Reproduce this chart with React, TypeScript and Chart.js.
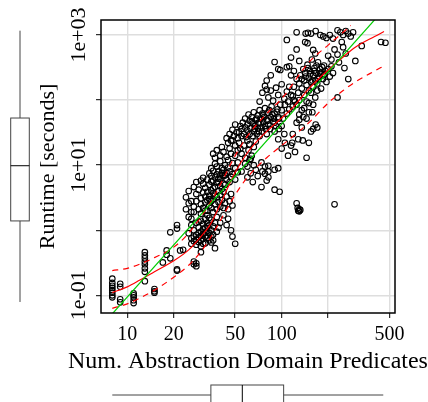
import React, { useEffect, useRef } from 'react';
import { Chart, registerables } from 'chart.js';

Chart.register(...registerables);

const SERIF = '"Liberation Serif", "DejaVu Serif", serif';

// Axis ticks and titles
const predicateTicks = [10, 20, 50, 100, 200, 500];
const predicateTickLabels = ['10', '20', '50', '100', '', '500'];
const runtimeTicks = [0.1, 1, 10, 100, 1000];
const runtimeTickLabels = ['1e-01', '', '1e+01', '', '1e+03'];
const xTitle = 'Num. Abstraction Domain Predicates';
const yTitle = 'Runtime [seconds]';

// Observations: [num. abstraction domain predicates, runtime in seconds]
const samples: [number, number][] = [
  [8, 0.18], [8, 0.155], [8, 0.14], [8, 0.13], [8, 0.12], [8, 0.11], [8, 0.1], [8, 0.093],
  [9, 0.15], [9, 0.135], [9, 0.087], [9, 0.078],
  [11, 0.107], [11, 0.1], [11, 0.093], [11, 0.084], [11, 0.076],
  [13, 0.46], [13, 0.41], [13, 0.37], [13, 0.33], [13, 0.3], [13, 0.26], [13, 0.23], [13, 0.165],
  [15, 0.125], [15, 0.115], [15, 0.11],
  [17, 0.32], [18, 0.49], [18, 0.42], [19, 0.93], [19, 0.37], [21, 1.2], [21, 1.06], [21, 0.25], [21, 0.24],
  [22, 0.49], [23, 0.5], [27, 0.33], [27, 0.3], [28, 0.31], [28, 0.28],
  [25, 1.6], [25, 0.9], [26, 1.5], [26, 1.2], [26, 0.75], [26, 0.62], [27, 1.9], [27, 1.0], [27, 0.8], [27, 0.68],
  [28, 1.3], [28, 0.85], [28, 0.72], [28, 0.6], [29, 1.1], [29, 0.9], [29, 0.78], [29, 0.66],
  [30, 1.8], [30, 1.4], [30, 0.95], [30, 0.82], [30, 0.7], [30, 0.57], [30, 0.46], [31, 1.25], [31, 1.05], [31, 0.88], [31, 0.74],
  [32, 2.0], [32, 1.5], [32, 1.1], [32, 0.92], [32, 0.8], [32, 0.63], [33, 1.7], [33, 1.3], [33, 0.98], [33, 0.77],
  [34, 1.2], [34, 0.9], [34, 0.7], [35, 1.45], [35, 1.0], [35, 0.8], [36, 1.15], [36, 0.86], [37, 0.53], [37, 1.3], [38, 0.95],
  [29, 1.35], [31, 0.62], [33, 1.15], [34, 1.55], [36, 0.7], [35, 0.65],
  [48, 0.8], [50, 0.62],
  [24, 2.1], [25, 2.6], [26, 1.9], [24, 3.2], [25, 4.0], [26, 2.8], [27, 4.6], [28, 5.5],
  [27, 2.3], [28, 2.8], [28, 3.6], [29, 2.1], [29, 4.2], [30, 2.5], [30, 3.1], [31, 2.2], [31, 3.8], [31, 5.2],
  [32, 2.7], [32, 3.3], [32, 4.5], [33, 2.0], [33, 2.9], [33, 3.9], [34, 2.4], [34, 3.4], [34, 5.0],
  [35, 2.2], [35, 2.8], [35, 4.1], [35, 5.6], [36, 3.0], [36, 3.7], [37, 2.5], [37, 4.6], [38, 2.1], [38, 3.2], [38, 5.4],
  [39, 2.7], [39, 4.0], [40, 2.3], [40, 3.5], [40, 4.8], [41, 2.9], [42, 2.2], [42, 3.9], [43, 2.6], [44, 3.3],
  [45, 2.1], [46, 2.8], [47, 3.6], [48, 2.4],
  [34, 3.0], [36, 4.4], [37, 3.4], [39, 6.2], [41, 4.3], [43, 5.0], [41, 7.6], [43, 7.0],
  [38, 1.6], [40, 1.3], [42, 1.7], [44, 1.2], [45, 1.5], [47, 1.0], [36, 1.9], [39, 1.1],
  [33, 6.0], [34, 7.5], [35, 6.8], [35, 9.0], [36, 5.8], [36, 8.2], [37, 6.5], [37, 10.5], [38, 7.2], [38, 9.5],
  [39, 5.5], [39, 8.0], [40, 6.2], [40, 7.0], [40, 11.5], [41, 9.0], [42, 5.2], [42, 6.8], [42, 8.5], [43, 10.0],
  [44, 6.0], [44, 7.6], [45, 9.2], [45, 12.0], [46, 5.5], [46, 8.0], [47, 6.6], [48, 10.8], [48, 7.3], [50, 9.0],
  [50, 6.0], [52, 11.0], [52, 7.8], [31, 6.4], [30, 5.8],
  [36, 15], [37, 13], [38, 17], [40, 14], [41, 19], [42, 16], [44, 13.5], [45, 22], [46, 18], [47, 15],
  [48, 24], [50, 20], [50, 14], [52, 17], [44, 26],
  [55, 8.0], [58, 10.5], [60, 6.5], [60, 9.5], [62, 12], [63, 7.5], [65, 5.5], [66, 10], [68, 8.5], [70, 6.8],
  [74, 11], [78, 9.5], [82, 9.8], [75, 8], [78, 7.4], [82, 8], [90, 8.5], [95, 9.0], [82, 6.5], [80, 5.8],
  [74, 4.6], [90, 4.2], [97, 3.9],
  [52, 26], [53, 32], [54, 40], [55, 28], [55, 36], [56, 45], [57, 30], [58, 38], [58, 52], [59, 27],
  [60, 34], [60, 42], [61, 60], [62, 30], [62, 48], [63, 37], [64, 55], [65, 28], [65, 44], [66, 33],
  [66, 65], [67, 40], [68, 50], [69, 30], [70, 37], [70, 58], [71, 45], [72, 28], [72, 70], [73, 52],
  [74, 38], [75, 62], [75, 33], [76, 46], [77, 55], [78, 40], [78, 75], [80, 30], [80, 50], [82, 64],
  [82, 42], [84, 36], [85, 55], [86, 80], [88, 47], [90, 62], [92, 40], [94, 72], [96, 52], [98, 85],
  [64, 47], [67, 36], [69, 52], [71, 33], [73, 44], [76, 58], [79, 36], [81, 48], [83, 70], [87, 60],
  [89, 52], [93, 66],
  [46, 30], [47, 24], [48, 35], [49, 28], [50, 42], [51, 32], [53, 22], [54, 18], [55, 15], [57, 20],
  [58, 13], [60, 24], [61, 17], [62, 21], [64, 14], [66, 19], [68, 23], [63, 12.5],
  [72, 95], [75, 130], [78, 165], [82, 110], [85, 140], [88, 98], [92, 155], [95, 120], [100, 175], [104, 105],
  [108, 135], [112, 160], [118, 115], [122, 95], [85, 240], [95, 300], [98, 290], [108, 320], [112, 330],
  [80, 200], [80, 145],
  [95, 25], [100, 18], [105, 22], [110, 14], [115, 20], [117, 22], [122, 16], [128, 25], [137, 24], [145, 13],
  [118, 30], [125, 45], [130, 60], [135, 38], [140, 75], [145, 52], [150, 90], [150, 22], [155, 33], [160, 36],
  [166, 42], [170, 38], [158, 65], [165, 110], [170, 140],
  [90, 45], [95, 55], [100, 70], [102, 52], [105, 85], [108, 62], [110, 95], [112, 72], [115, 120], [118, 80],
  [120, 100], [100, 40], [96, 36], [90, 33], [104, 30],
  [125, 85], [130, 100], [135, 70], [140, 120], [145, 95], [150, 65], [155, 130], [160, 85], [130, 50], [138, 55],
  [130, 180], [132, 240], [135, 150], [138, 300], [140, 200], [142, 260], [145, 170], [147, 350], [150, 220], [150, 140],
  [152, 280], [155, 190], [157, 420], [160, 240], [160, 160], [163, 310], [165, 200], [167, 260], [170, 180], [172, 380],
  [175, 230], [177, 300], [180, 150], [182, 270], [185, 210], [188, 340], [190, 250], [195, 190], [200, 300], [205, 230],
  [135, 210], [143, 230], [148, 310], [153, 250], [158, 200], [162, 280], [168, 340], [173, 210], [178, 260], [183, 320],
  [187, 240], [192, 280],
  [128, 130], [125, 210], [120, 160], [120, 280], [115, 240], [210, 420], [200, 480],
  [108, 840], [142, 780], [147, 750], [160, 590], [165, 520], [90, 385], [115, 450], [125, 600], [130, 400],
  [125, 1100], [143, 1050], [148, 1080], [155, 1050], [166, 1150], [178, 1000], [186, 950], [195, 900], [205, 1000],
  [215, 880], [230, 1180], [240, 1100], [250, 1000], [260, 1150], [270, 1050], [280, 950], [290, 1100],
  [245, 780], [300, 400], [270, 210], [230, 110], [255, 310], [330, 680], [440, 780], [470, 760], [220, 600],
  [230, 500], [250, 650], [210, 330], [215, 260], [235, 380], [260, 520],
  [125, 2.6], [127, 2.2], [130, 2.1], [128, 2.0], [132, 2.05], [130, 1.95], [220, 2.5],
];

// Linear fit on log-log scale (green)
const fitX = [8, 400];
const fitY = [0.052, 1710];

// Smoothed trend (red) and its band (red dashed)
const smoothX = [8, 10, 12, 15, 20, 25, 30, 35, 40, 45, 50, 60, 70, 80, 100, 120, 150, 200, 250, 300, 400, 460];
const smoothY = [0.11, 0.135, 0.17, 0.23, 0.34, 0.5, 0.8, 1.3, 2.5, 4.6, 7.8, 15.5, 24, 33, 53, 80, 150, 290, 460, 650, 950, 1130];
const upperX = [8, 10, 12, 15, 20, 25, 30, 35, 40, 50, 60, 80, 100, 150, 200, 250, 280];
const upperY = [0.24, 0.26, 0.3, 0.38, 0.55, 0.9, 1.6, 2.8, 5, 14, 28, 62, 105, 380, 700, 1100, 1400];
const lowerX = [8, 10, 12, 15, 20, 25, 30, 35, 40, 50, 60, 80, 100, 150, 200, 250, 300, 400, 460];
const lowerY = [0.063, 0.074, 0.09, 0.12, 0.19, 0.29, 0.47, 0.8, 1.4, 3.5, 6.5, 13, 20, 45, 90, 140, 190, 280, 335];

// Marginal boxplots: [lower whisker, Q1, median, Q3, upper whisker]
const predicateBox = [8.0, 34.8, 55.6, 103, 455];
const runtimeBox = [0.079, 1.39, 9.8, 53, 1165];

const toPoints = (xs: number[], ys: number[]) => xs.map((x, i) => ({ x, y: ys[i] }));

const overlay = {
  id: 'overlay',
  afterDraw(chart: any) {
    const { ctx, chartArea: a, scales } = chart;
    const x = scales.x;
    const y = scales.y;
    ctx.save();
    // frame
    ctx.strokeStyle = '#000';
    ctx.lineWidth = 1.5;
    ctx.strokeRect(a.left, a.top, a.right - a.left, a.bottom - a.top);
    // rotated y tick labels
    ctx.fillStyle = '#000';
    ctx.font = `22px ${SERIF}`;
    runtimeTicks.forEach((v, i) => {
      const t = runtimeTickLabels[i];
      if (!t) return;
      const py = y.getPixelForValue(v);
      ctx.save();
      ctx.translate(85, py);
      ctx.rotate(-Math.PI / 2);
      ctx.textAlign = 'center';
      ctx.textBaseline = 'alphabetic';
      ctx.fillText(t, 0, 0);
      ctx.restore();
    });
    // x axis title (drawn without width compression)
    ctx.font = `24px ${SERIF}`;
    ctx.textAlign = 'center';
    ctx.textBaseline = 'alphabetic';
    ctx.fillText(xTitle, (a.left + a.right) / 2, 367.5);
    // left boxplot (runtime)
    ctx.lineWidth = 1;
    ctx.strokeStyle = '#444';
    const [ylo, yq1, ymd, yq3, yhi] = runtimeBox.map((v) => y.getPixelForValue(v));
    const cx = 20, hw = 9.3;
    ctx.beginPath();
    ctx.moveTo(cx, yhi); ctx.lineTo(cx, yq3);
    ctx.moveTo(cx, yq1); ctx.lineTo(cx, ylo);
    ctx.stroke();
    ctx.strokeRect(cx - hw, yq3, 2 * hw, yq1 - yq3);
    ctx.strokeStyle = '#000';
    ctx.beginPath(); ctx.moveTo(cx - hw, ymd); ctx.lineTo(cx + hw, ymd); ctx.stroke();
    // bottom boxplot (predicates)
    ctx.strokeStyle = '#444';
    const [xlo, xq1, xmd, xq3, xhi] = predicateBox.map((v) => x.getPixelForValue(v));
    const cy = 395, hh = 10;
    ctx.beginPath();
    ctx.moveTo(xlo, cy); ctx.lineTo(xq1, cy);
    ctx.moveTo(xq3, cy); ctx.lineTo(xhi, cy);
    ctx.stroke();
    ctx.strokeRect(xq1, cy - hh, xq3 - xq1, 2 * hh);
    ctx.strokeStyle = '#000';
    ctx.beginPath(); ctx.moveTo(xmd, cy - hh); ctx.lineTo(xmd, cy + hh); ctx.stroke();
    ctx.restore();
  },
};

export default function App() {
  const ref = useRef<HTMLCanvasElement>(null);
  useEffect(() => {
    const chart = new Chart(ref.current as HTMLCanvasElement, {
      type: 'scatter',
      data: {
        datasets: [
          {
            type: 'line',
            data: toPoints(fitX, fitY),
            borderColor: '#00cc00',
            borderWidth: 1.2,
            pointRadius: 0,
            fill: false,
            order: 0,
          },
          {
            type: 'line',
            data: toPoints(smoothX, smoothY),
            borderColor: '#ff0000',
            borderWidth: 1.2,
            pointRadius: 0,
            cubicInterpolationMode: 'monotone',
            fill: false,
            order: 0,
          },
          {
            type: 'line',
            data: toPoints(upperX, upperY),
            borderColor: '#ff0000',
            borderWidth: 1.2,
            borderDash: [6, 5],
            pointRadius: 0,
            cubicInterpolationMode: 'monotone',
            fill: false,
            order: 0,
          },
          {
            type: 'line',
            data: toPoints(lowerX, lowerY),
            borderColor: '#ff0000',
            borderWidth: 1.2,
            borderDash: [6, 5],
            pointRadius: 0,
            cubicInterpolationMode: 'monotone',
            fill: false,
            order: 0,
          },
          {
            type: 'scatter',
            data: samples.map(([x, y]) => ({ x, y })),
            pointRadius: 2.8,
            pointBorderWidth: 1.1,
            borderColor: '#000',
            backgroundColor: 'rgba(0,0,0,0)',
            order: 1,
          },
        ],
      } as any,
      options: {
        responsive: false,
        maintainAspectRatio: false,
        animation: false,
        events: [],
        layout: { padding: { left: 0, right: 33, top: 20, bottom: 0 } },
        plugins: { legend: { display: false }, tooltip: { enabled: false } },
        scales: {
          x: {
            type: 'logarithmic',
            min: 6.76,
            max: 542,
            afterBuildTicks: (s: any) => {
              s.ticks = predicateTicks.map((v) => ({ value: v }));
            },
            afterFit: (s: any) => {
              s.height = 89;
            },
            grid: {
              color: '#dedede',
              lineWidth: 1.4,
              drawTicks: true,
              tickLength: 5,
              tickColor: '#000',
              tickWidth: 1,
            },
            border: { display: false },
            ticks: {
              autoSkip: false,
              maxRotation: 0,
              minRotation: 0,
              padding: 5,
              color: '#000',
              font: { family: SERIF, size: 20 },
              callback: (v: any) => {
                const i = predicateTicks.indexOf(Number(v));
                return i >= 0 ? predicateTickLabels[i] : '';
              },
            },
            title: { display: false },
          },
          y: {
            type: 'logarithmic',
            min: 0.0535,
            max: 1700,
            afterBuildTicks: (s: any) => {
              s.ticks = runtimeTicks.map((v) => ({ value: v }));
            },
            afterFit: (s: any) => {
              s.width = 101;
            },
            grid: {
              color: '#dedede',
              lineWidth: 1.4,
              drawTicks: true,
              tickLength: 5,
              tickColor: '#000',
              tickWidth: 1,
            },
            border: { display: false },
            ticks: { display: false },
            title: {
              display: true,
              text: yTitle,
              color: '#000',
              font: { family: SERIF, size: 22 },
              padding: { top: 35, bottom: 0 },
            },
          },
        },
      } as any,
      plugins: [overlay],
    });
    return () => chart.destroy();
  }, []);
  return (
    <div style={{ position: 'absolute', left: 0, top: 0, width: 428, height: 402 }}>
      <canvas ref={ref} width={428} height={402} style={{ display: 'block', width: 428, height: 402 }} />
    </div>
  );
}
